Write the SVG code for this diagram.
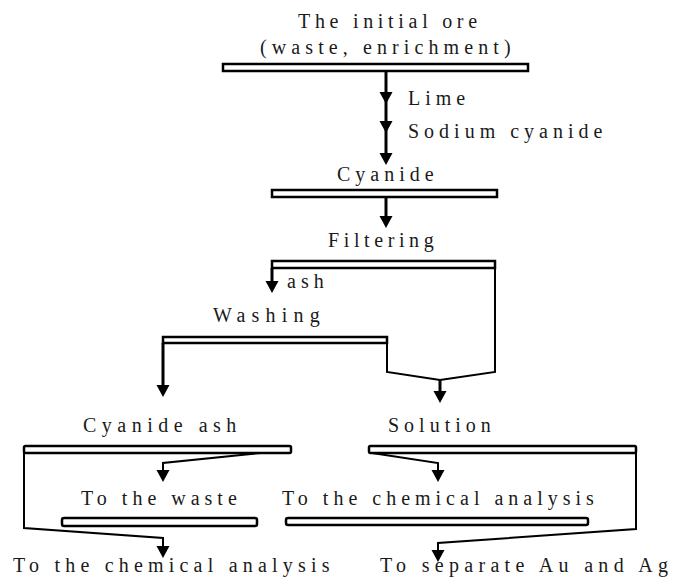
<svg xmlns="http://www.w3.org/2000/svg" width="676" height="582" viewBox="0 0 676 582">
<style>
text{font-family:"Liberation Serif","Times New Roman","DejaVu Serif",serif;font-size:20px;letter-spacing:5px;fill:#1a1a1a}
.bar{fill:#fff;stroke:#000;stroke-width:2.5}
.ln{fill:none;stroke:#000;stroke-width:3}
.thin{fill:none;stroke:#000;stroke-width:2}
.ah{fill:#000}
</style>
<defs>
<path id="head" d="M-6.5,-12 L6.5,-12 L0,0 Z"/>
</defs>
<rect width="676" height="582" fill="#fff"/>
<g id="connectors">
<line class="ln" x1="386" y1="72" x2="386" y2="160"/>
<use href="#head" x="386" y="104" class="ah"/>
<use href="#head" x="386" y="133" class="ah"/>
<use href="#head" x="386" y="165" class="ah"/>
<line class="ln" x1="386" y1="197" x2="386" y2="222"/>
<use href="#head" x="386" y="228" class="ah"/>
<line class="ln" x1="272" y1="268" x2="272" y2="288"/>
<use href="#head" x="272" y="293" class="ah"/>
<polyline class="thin" points="495,268 495,372 440,380 387,372 387,343"/>
<line class="ln" x1="440" y1="380" x2="440" y2="397"/>
<use href="#head" x="440" y="403" class="ah"/>
<line class="ln" x1="163" y1="343" x2="163" y2="391"/>
<use href="#head" x="163" y="397" class="ah"/>
<polyline class="thin" points="260,453 163,463 163,476"/>
<use href="#head" x="163" y="482" class="ah"/>
<polyline class="thin" points="24,453 24,528 163,538 163,552"/>
<use href="#head" x="163" y="558" class="ah"/>
<polyline class="thin" points="372,453 438,463 438,476"/>
<use href="#head" x="438" y="482" class="ah"/>
<polyline class="thin" points="636,453 636,529 438,543 438,556"/>
<use href="#head" x="438" y="562" class="ah"/>
</g>
<g id="ore">
<text x="298" y="28" style="letter-spacing:4.7px">The initial ore</text>
<text x="260" y="54" style="letter-spacing:5.1px">(waste, enrichment)</text>
<rect class="bar" x="223" y="64" width="305" height="7"/>
</g>
<g id="lime"><text x="408" y="105">Lime</text></g>
<g id="sodium"><text x="408" y="138">Sodium cyanide</text></g>
<g id="cyanide">
<text x="337" y="181">Cyanide</text>
<rect class="bar" x="272" y="190" width="225" height="7"/>
</g>
<g id="filtering">
<text x="328" y="247" style="letter-spacing:4.6px">Filtering</text>
<rect class="bar" x="272" y="261" width="223" height="7"/>
</g>
<g id="ash"><text x="287" y="288">ash</text></g>
<g id="washing">
<text x="213" y="322" style="letter-spacing:6.2px">Washing</text>
<rect class="bar" x="163" y="337" width="224" height="6"/>
</g>
<g id="cyanide-ash">
<text x="83" y="432" style="letter-spacing:5.5px">Cyanide ash</text>
<rect class="bar" x="24" y="446" width="267" height="7" rx="1.5"/>
</g>
<g id="solution">
<text x="388" y="432">Solution</text>
<rect class="bar" x="369" y="446" width="267" height="7" rx="1.5"/>
</g>
<g id="waste">
<text x="81" y="505">To the waste</text>
<rect class="bar" x="62" y="518" width="195" height="8" rx="2"/>
</g>
<g id="chem1">
<text x="282" y="505">To the chemical analysis</text>
<rect class="bar" x="286" y="518" width="302" height="7" rx="2"/>
</g>
<g id="chem2"><text x="13" y="572" style="letter-spacing:5.2px">To the chemical analysis</text></g>
<g id="separate"><text x="380" y="572" style="letter-spacing:5.3px">To separate Au and Ag</text></g>
</svg>
